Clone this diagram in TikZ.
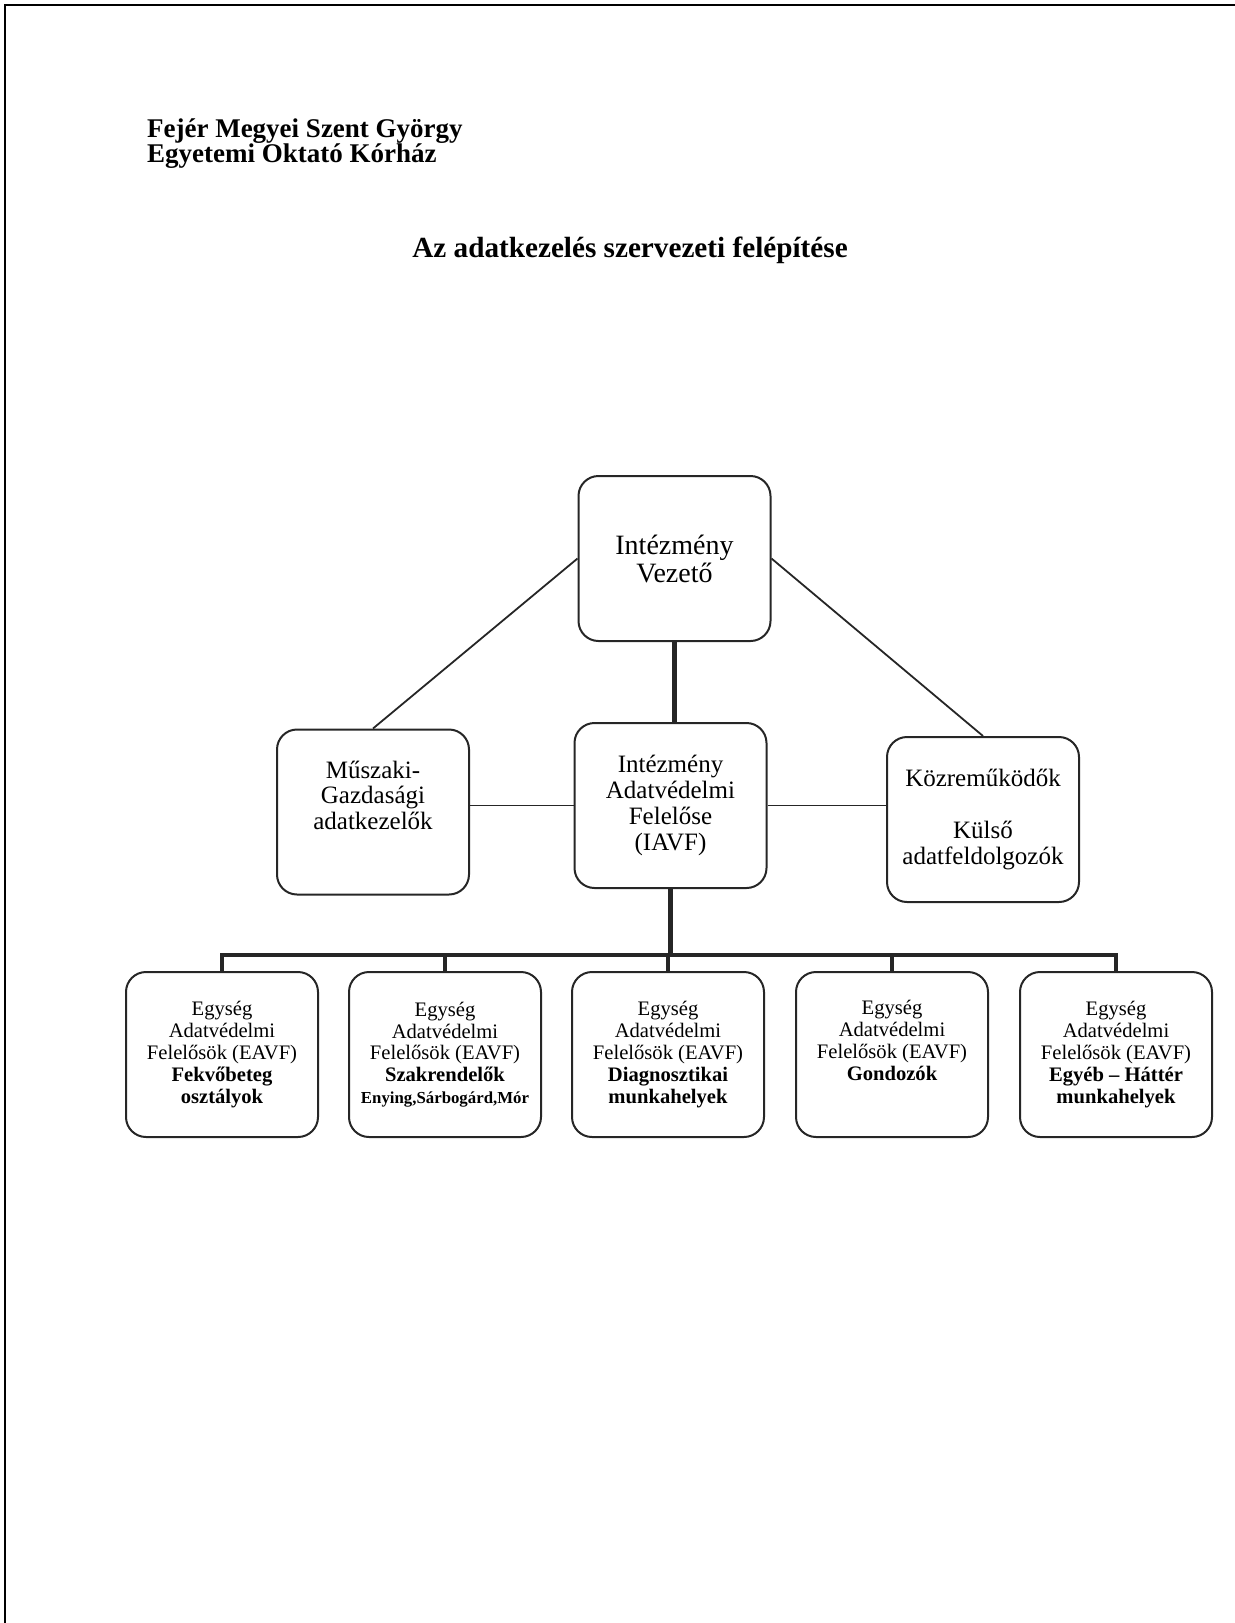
\documentclass[tikz,border=0pt]{standalone}
\usepackage{fontspec}
\setmainfont{Liberation Serif}
\usepackage{tikz}
\usetikzlibrary{calc}
\colorlet{frame-color}{black!85}
\tikzset{
    box/.style = {draw=frame-color, line width=1pt, rounded corners=10pt,
        align=center, inner sep=0pt, minimum width=96pt, minimum height=82.5pt},
    top-box/.style = {box, font=\fontsize{14}{14}\selectfont},
    mid-box/.style = {box, font=\fontsize{12.5}{12.9}\selectfont},
    unit-box/.style = {box, font=\fontsize{10.3}{10.9}\selectfont},
    thin-link/.style = {draw=frame-color, line width=0.9pt},
    thick-link/.style = {draw=frame-color, line width=2.3pt},
}
\newcommand\eavftext{Egység\\Adatvédelmi\\Felelősök (EAVF)}

\begin{document}
\begin{tikzpicture}[x=0.5pt,y=-0.5pt]
\useasboundingbox (0,0) rectangle (1235,1623);
% edge of the scanned sheet
\draw[line width=1.2pt] (5,1623) -- (5,5) -- (1235,5);

\node[anchor=west, align=left, font=\bfseries\fontsize{13.5}{12.5}\selectfont] (hosp) at (140,144)
    {Fejér Megyei Szent György\\Egyetemi Oktató Kórház};
\node[font=\bfseries\fontsize{14.6}{15}\selectfont] (title) at (630,250)
    {Az adatkezelés szervezeti felépítése};

% upper part
\node[top-box] (vez) at (674.5,558.5) {Intézmény\\Vezető};
\node[mid-box] (gazd) at (373,812) {Műszaki-\\Gazdasági\\adatkezelők\\\strut};
\node[mid-box] (iavf) at (670.5,805.5) {Intézmény\\Adatvédelmi\\Felelőse\\(IAVF)};
\node[mid-box] (kozre) at (983,819.5) {Közreműködők\\[12.9pt]Külső\\adatfeldolgozók};

% units
\node[unit-box] (fekvo) at (222,1054.5) {\eavftext\\\textbf{Fekvőbeteg}\\\textbf{osztályok}};
\node[unit-box] (szak) at (445,1054.5)
    {\eavftext\\\textbf{Szakrendelők}\\{\bfseries\fontsize{8.4}{10.9}\selectfont Enying,Sárbogárd,Mór}};
\node[unit-box] (diag) at (668,1054.5) {\eavftext\\\textbf{Diagnosztikai}\\\textbf{munkahelyek}};
\node[unit-box] (gond) at (892,1054.5) {\eavftext\\\textbf{Gondozók}\\\strut};
\node[unit-box] (egyeb) at (1116,1054.5) {\eavftext\\\textbf{Egyéb -- Háttér}\\\textbf{munkahelyek}};

\draw[thin-link] (vez.west) -- (gazd.north);
\draw[thin-link] (vez.east) -- (kozre.north);
\draw[thin-link] (iavf.west) -- (iavf.west -| gazd.east);
\draw[thin-link] (iavf.east) -- (iavf.east -| kozre.west);
\draw[thick-link] (vez.south) -- (vez.south |- iavf.north);

\draw[thick-link] (iavf.south) -- ++(0,66) coordinate (bus);
\draw[thick-link] (fekvo.north) |- (bus) -| (egyeb.north);
\draw[thick-link] (szak.north) -- (szak.north |- bus);
\draw[thick-link] (diag.north) -- (diag.north |- bus);
\draw[thick-link] (gond.north) -- (gond.north |- bus);

\end{tikzpicture}
\end{document}
